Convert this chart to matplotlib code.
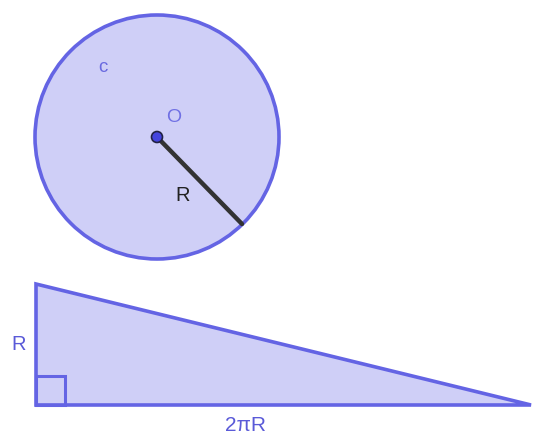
import numpy as np
from matplotlib import pyplot as plt
from matplotlib.patches import Circle, Polygon, Rectangle

# geometry, in pixel units (y grows downward)
center = (157, 137)
radius = 122
radius_end = (242, 224)
triangle = [(36, 284), (36, 405), (531, 405)]
right_angle = (36, 376, 29)   # x, y top, side

labels = ["c", "O", "R", "R", "2\u03c0R"]
label_pos = [(103, 68), (174, 117), (183, 195), (19, 344), (246, 425)]
label_col = ["#6a6ae0", "#7070e4", "#222222", "#5a5ad8", "#5a5ad8"]
label_size = [13.5, 14, 14.5, 14.5, 15]

fill = "#cfcff7"
edge = "#6464e4"

plt.rcParams['font.family'] = ['Liberation Sans', 'DejaVu Sans']

fig = plt.figure(figsize=(5.33, 4.36), dpi=100)
ax = fig.add_axes([0, 0, 1, 1])
ax.set_xlim(0, 533)
ax.set_ylim(436, 0)
ax.set_aspect('equal')
ax.axis('off')

ax.add_patch(Circle(center, radius, facecolor=fill, edgecolor=edge, lw=2.6))
ax.plot([center[0], radius_end[0]], [center[1], radius_end[1]],
        color="#333333", lw=3.2, solid_capstyle='round')
ax.add_patch(Circle(center, 5.5, facecolor="#4444dd", edgecolor="#222244", lw=1.2, zorder=5))

ax.add_patch(Polygon(triangle, closed=True, facecolor=fill, edgecolor=edge, lw=2.6,
                     joinstyle='miter'))
x0, y0, s = right_angle
ax.add_patch(Rectangle((x0, y0), s, s, fill=False, edgecolor=edge, lw=2.2))

for t, (x, y), c, fs in zip(labels, label_pos, label_col, label_size):
    ax.text(x, y, t, color=c, fontsize=fs, ha='center', va='center')

plt.savefig("out.png", dpi=100)
